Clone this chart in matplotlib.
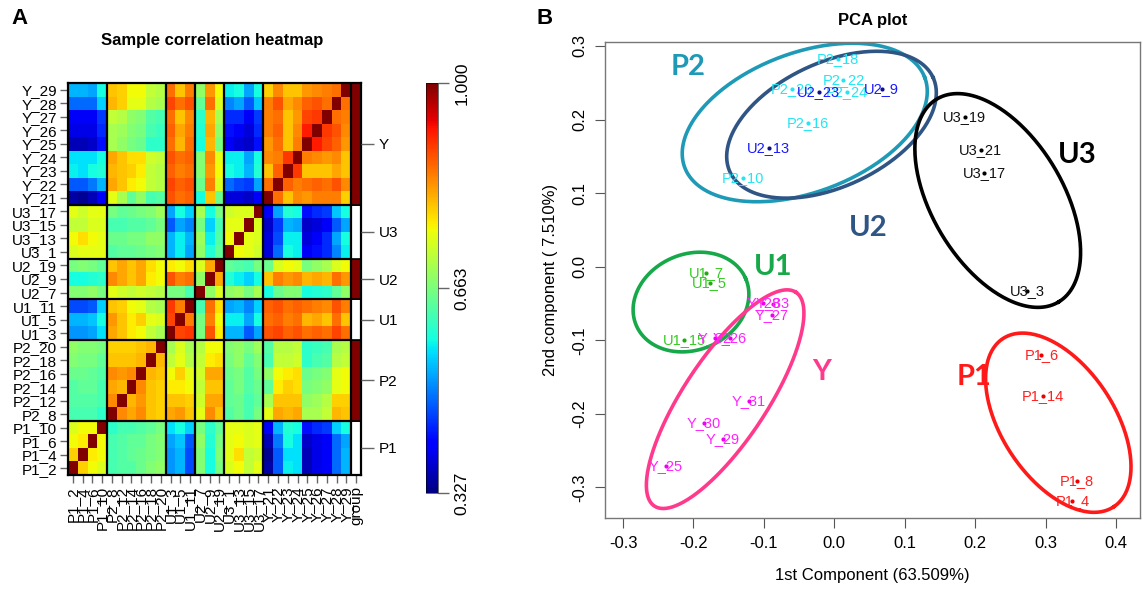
import numpy as np
import matplotlib
matplotlib.use("Agg")
import matplotlib.pyplot as plt
from matplotlib.patches import Rectangle

plt.rcParams["font.family"] = ["Liberation Sans", "DejaVu Sans"]

# ---------------- panel A data ----------------
samples = ["P1_2", "P1_4", "P1_6", "P1_10",
           "P2_8", "P2_12", "P2_14", "P2_16", "P2_18", "P2_20",
           "U1_3", "U1_5", "U1_11",
           "U2_7", "U2_9", "U2_19",
           "U3_1", "U3_13", "U3_15", "U3_17",
           "Y_21", "Y_22", "Y_23", "Y_24", "Y_25", "Y_26", "Y_27", "Y_28", "Y_29"]
group_names = ["P1", "P2", "U1", "U2", "U3", "Y"]
group_sizes = [4, 6, 3, 3, 4, 9]
group_flag = [0, 1, 0, 1, 0, 1]   # 1 = dark red cell in the "group" column

# lower triangle of the correlation matrix (row i holds columns 0..i-1)
corr_lower = [
    [],
    [0.79],
    [0.76, 0.77],
    [0.74, 0.76, 0.76],
    [0.62, 0.62, 0.62, 0.60],
    [0.63, 0.63, 0.63, 0.62, 0.84],
    [0.63, 0.64, 0.64, 0.62, 0.82, 0.81],
    [0.65, 0.65, 0.64, 0.63, 0.84, 0.83, 0.84],
    [0.67, 0.66, 0.66, 0.64, 0.80, 0.80, 0.80, 0.81],
    [0.68, 0.67, 0.67, 0.66, 0.79, 0.79, 0.79, 0.80, 0.81],
    [0.51, 0.51, 0.52, 0.56, 0.82, 0.80, 0.77, 0.76, 0.72, 0.70],
    [0.53, 0.53, 0.54, 0.58, 0.83, 0.80, 0.77, 0.79, 0.75, 0.74, 0.89],
    [0.46, 0.46, 0.47, 0.55, 0.80, 0.79, 0.76, 0.75, 0.71, 0.70, 0.90, 0.85],
    [0.67, 0.67, 0.68, 0.66, 0.75, 0.73, 0.72, 0.73, 0.72, 0.71, 0.66, 0.66, 0.62],
    [0.58, 0.58, 0.59, 0.60, 0.84, 0.82, 0.80, 0.82, 0.77, 0.76, 0.88, 0.85, 0.86, 0.68],
    [0.66, 0.67, 0.66, 0.64, 0.80, 0.82, 0.80, 0.82, 0.78, 0.76, 0.77, 0.76, 0.78, 0.74, 0.82],
    [0.74, 0.75, 0.75, 0.75, 0.63, 0.64, 0.64, 0.65, 0.66, 0.67, 0.53, 0.57, 0.52, 0.68, 0.59, 0.64],
    [0.76, 0.78, 0.76, 0.75, 0.65, 0.65, 0.66, 0.66, 0.68, 0.68, 0.53, 0.57, 0.53, 0.69, 0.57, 0.63,
     0.76],
    [0.72, 0.72, 0.74, 0.74, 0.62, 0.62, 0.63, 0.63, 0.64, 0.66, 0.47, 0.52, 0.50, 0.66, 0.55, 0.62,
     0.75, 0.75],
    [0.75, 0.73, 0.75, 0.75, 0.66, 0.64, 0.65, 0.66, 0.67, 0.69, 0.52, 0.58, 0.55, 0.70, 0.58, 0.66,
     0.73, 0.74, 0.74],
    [0.35, 0.34, 0.36, 0.40, 0.75, 0.70, 0.64, 0.68, 0.62, 0.63, 0.88, 0.86, 0.87, 0.58, 0.80, 0.65,
     0.38, 0.38, 0.37, 0.40],
    [0.47, 0.47, 0.49, 0.53, 0.82, 0.80, 0.77, 0.76, 0.72, 0.71, 0.89, 0.87, 0.88, 0.65, 0.85, 0.74,
     0.48, 0.46, 0.45, 0.52, 0.86],
    [0.57, 0.56, 0.58, 0.59, 0.81, 0.80, 0.79, 0.77, 0.72, 0.71, 0.87, 0.85, 0.86, 0.67, 0.83, 0.76,
     0.58, 0.57, 0.53, 0.59, 0.80, 0.87],
    [0.56, 0.56, 0.56, 0.58, 0.82, 0.80, 0.78, 0.78, 0.73, 0.72, 0.88, 0.86, 0.87, 0.67, 0.84, 0.75,
     0.57, 0.57, 0.52, 0.58, 0.84, 0.85, 0.90],
    [0.36, 0.36, 0.37, 0.42, 0.70, 0.68, 0.66, 0.65, 0.60, 0.60, 0.86, 0.81, 0.86, 0.58, 0.81, 0.66,
     0.40, 0.38, 0.37, 0.42, 0.83, 0.86, 0.80, 0.85],
    [0.39, 0.39, 0.39, 0.44, 0.70, 0.69, 0.67, 0.66, 0.62, 0.61, 0.87, 0.82, 0.85, 0.59, 0.82, 0.68,
     0.42, 0.40, 0.38, 0.44, 0.85, 0.87, 0.80, 0.84, 0.92],
    [0.40, 0.40, 0.40, 0.45, 0.72, 0.71, 0.68, 0.67, 0.63, 0.62, 0.86, 0.80, 0.84, 0.60, 0.81, 0.70,
     0.44, 0.44, 0.40, 0.45, 0.85, 0.86, 0.80, 0.83, 0.89, 0.90],
    [0.48, 0.48, 0.48, 0.55, 0.81, 0.79, 0.75, 0.75, 0.71, 0.70, 0.89, 0.86, 0.88, 0.64, 0.86, 0.74,
     0.50, 0.52, 0.47, 0.54, 0.85, 0.88, 0.82, 0.84, 0.87, 0.88, 0.86],
    [0.53, 0.53, 0.52, 0.58, 0.80, 0.79, 0.76, 0.76, 0.72, 0.71, 0.86, 0.80, 0.85, 0.68, 0.83, 0.76,
     0.57, 0.58, 0.52, 0.58, 0.79, 0.84, 0.80, 0.80, 0.83, 0.84, 0.85, 0.86],
]
cmin, cmax = 0.327, 1.0

# ---------------- panel B data ----------------
pca_groups = {
    "P2": (["P2_10", "P2_16", "P2_18", "P2_20", "P2_22", "P2_24"],
           [-0.130, -0.038, 0.005, -0.060, 0.013, 0.018],
           [0.120, 0.195, 0.282, 0.241, 0.254, 0.238]),
    "U2": (["U2_13", "U2_23", "U2_9"],
           [-0.093, -0.022, 0.067],
           [0.161, 0.238, 0.242]),
    "U3": (["U3_19", "U3_21", "U3_17", "U3_3"],
           [0.185, 0.208, 0.213, 0.274],
           [0.203, 0.158, 0.127, -0.033]),
    "U1": (["U1_7", "U1_5", "U1_15"],
           [-0.182, -0.177, -0.213],
           [-0.008, -0.022, -0.100]),
    "Y": (["Y_28", "Y_33", "Y_27", "Y_32", "Y_26", "Y_31", "Y_30", "Y_29", "Y_25"],
          [-0.101, -0.087, -0.089, -0.170, -0.148, -0.121, -0.185, -0.158, -0.239],
          [-0.049, -0.050, -0.065, -0.097, -0.097, -0.182, -0.212, -0.234, -0.271]),
    "P1": (["P1_6", "P1_14", "P1_8", "P1_4"],
           [0.294, 0.296, 0.344, 0.338],
           [-0.120, -0.176, -0.291, -0.318]),
}
point_colors = {"P2": "#22e6f2", "U2": "#1a1aff", "U3": "#111111",
                "U1": "#33cc22", "Y": "#ff22ff", "P1": "#ff2020"}
dot_colors = {"P2": "#22e6f2", "U2": "#10108a", "U3": "#000000",
              "U1": "#22aa11", "Y": "#ee00ee", "P1": "#ee0000"}
ring_colors = {"P2": "#1e9ab6", "U2": "#2f5585", "U3": "#000000",
               "U1": "#17a84a", "Y": "#ff3a8c", "P1": "#ff1a1a"}
# ellipse: centre (data), semi axes (x-data units), screen angle in degrees
rings = {
    "P2": (-0.042, 0.196, 0.182, 0.099, 20.5),
    "U2": (-0.004, 0.193, 0.159, 0.088, 25.0),
    "U3": (0.232, 0.090, 0.168, 0.093, -59.0),
    "U1": (-0.2035, -0.048, 0.0845, 0.068, 23.0),
    "Y": (-0.155, -0.180, 0.182, 0.059, 56.5),
    "P1": (0.318, -0.212, 0.143, 0.080, -56.6),
}
ring_labels = {"P2": (-0.208, 0.271), "U2": (0.0475, 0.053), "U3": (0.345, 0.152),
               "U1": (-0.087, -0.001), "Y": (-0.018, -0.143), "P1": (0.199, -0.150)}

# ---------------- figure ----------------
W, H = 1143, 595
fig = plt.figure(figsize=(W / 100, H / 100), dpi=100)

n = len(samples)
corr = np.eye(n)
for i, row in enumerate(corr_lower):
    for j, v in enumerate(row):
        corr[i, j] = v
        corr[j, i] = v

axA = fig.add_axes([68 / W, 1 - 475 / H, 293 / W, 392 / H])
mesh = axA.pcolormesh(np.arange(n + 1), np.arange(n + 1), corr, cmap="jet",
                      vmin=cmin, vmax=cmax)
axA.set_xlim(0, n + 1)
axA.set_ylim(0, n)

bounds = np.cumsum([0] + group_sizes)
for b in bounds[1:-1]:
    axA.plot([0, n], [b, b], color="black", lw=1.6)
    axA.plot([b, b], [0, n], color="black", lw=1.6)
axA.plot([n, n], [0, n], color="black", lw=1.6)
for k in range(len(group_names)):
    fc = "#800000" if group_flag[k] else "white"
    axA.add_patch(Rectangle((n, bounds[k]), 1, group_sizes[k], facecolor=fc,
                            edgecolor="black", lw=1.2))
for s in axA.spines.values():
    s.set_linewidth(1.6)

axA.set_yticks(np.arange(n) + 0.5)
axA.set_yticklabels(samples, fontsize=11)
axA.set_xticks(np.arange(n + 1) + 0.5)
axA.set_xticklabels(samples + ["group"], rotation=90, fontsize=11)
axA.tick_params(axis="both", length=6, color="#666666", width=1.0, pad=2)

axG = axA.twinx()
axG.set_ylim(0, n)
axG.set_yticks(bounds[:-1] + np.array(group_sizes) / 2)
axG.set_yticklabels(group_names, fontsize=11)
axG.tick_params(axis="y", length=9, color="#666666", width=1.0, pad=4)
for s in axG.spines.values():
    s.set_visible(False)

fig.text(212 / W, 1 - 40 / H, "Sample correlation heatmap", fontsize=12,
         fontweight="bold", ha="center", va="center")

cax = fig.add_axes([426 / W, 1 - 493 / H, 12 / W, 410 / H])
cb = fig.colorbar(mesh, cax=cax)
cb.set_ticks([cmin, (cmin + cmax) / 2, cmax])
cb.set_ticklabels(["%.3f" % cmin, "%.3f" % ((cmin + cmax) / 2), "%.3f" % cmax])
cb.outline.set_linewidth(0.4)
cax.tick_params(length=8, color="#666666", width=1.0, labelsize=12.5, pad=4)
for t in cax.get_yticklabels():
    t.set_rotation(90)
    t.set_va("center")

fig.text(20 / W, 1 - 18 / H, "A", fontsize=16, fontweight="bold", ha="center", va="center")
fig.text(545 / W, 1 - 18 / H, "B", fontsize=16, fontweight="bold", ha="center", va="center")

# ---------------- PCA ----------------
axB = fig.add_axes([605 / W, 1 - 518 / H, 535 / W, 476 / H])
xlim = (-0.3256, 0.434)
ylim = (-0.3415, 0.3054)
axB.set_xlim(*xlim)
axB.set_ylim(*ylim)
ratio = (535 / (xlim[1] - xlim[0])) / (476 / (ylim[1] - ylim[0]))

t = np.linspace(0, 2 * np.pi, 300)
for g, (cx, cy, a, b, ang) in rings.items():
    th = np.deg2rad(ang)
    ex = cx + a * np.cos(t) * np.cos(th) - b * np.sin(t) * np.sin(th)
    ey = cy + (a * np.cos(t) * np.sin(th) + b * np.sin(t) * np.cos(th)) * ratio
    axB.plot(ex, ey, color=ring_colors[g], lw=2.6, zorder=2)

for g, (names, xs, ys) in pca_groups.items():
    axB.scatter(xs, ys, s=9, color=dot_colors[g], zorder=3, linewidths=0)
    for nm, x, y in zip(names, xs, ys):
        axB.text(x, y, nm, color=point_colors[g], fontsize=10.5, ha="center",
                 va="center", zorder=4)

for g, (x, y) in ring_labels.items():
    axB.text(x, y, g, color=ring_colors[g], fontsize=21, fontweight="bold",
             family=["Lato", "DejaVu Sans"], ha="center", va="center")

axB.set_xticks(np.arange(-0.3, 0.41, 0.1))
axB.set_xticklabels(["%.1f" % v for v in np.arange(-0.3, 0.41, 0.1)])
axB.set_yticks(np.arange(-0.3, 0.31, 0.1))
axB.set_yticklabels(["%.1f" % v for v in np.arange(-0.3, 0.31, 0.1)], rotation=90,
                    va="center")
axB.tick_params(length=7, color="#555555", labelsize=12, pad=6)
for s in axB.spines.values():
    s.set_color("#777777")
    s.set_linewidth(1.0)
axB.set_xlabel("1st Component (63.509%)", fontsize=12, labelpad=12)
axB.set_ylabel("2nd component ( 7.510%)", fontsize=12, labelpad=10)
axB.set_title("PCA plot", fontsize=12, fontweight="bold", pad=12)

fig.savefig("out.png", dpi=100)
